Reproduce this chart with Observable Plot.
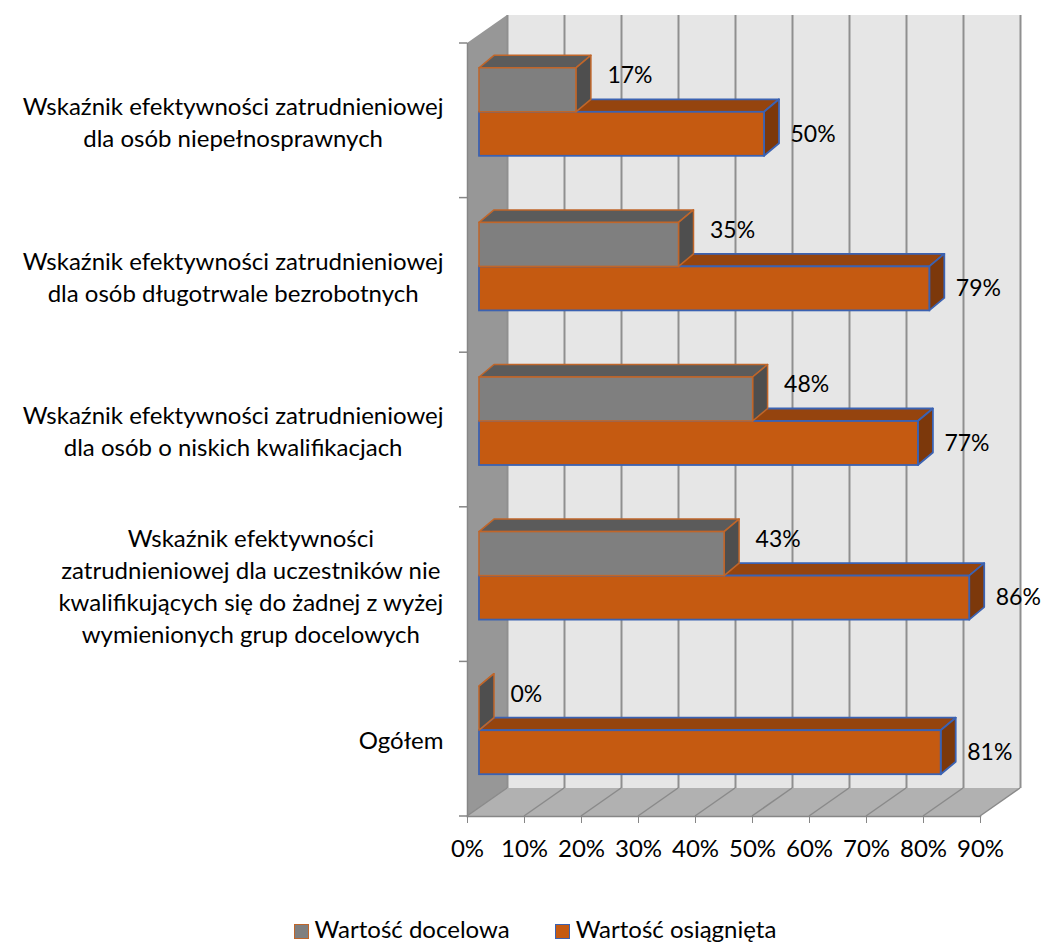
<!DOCTYPE html>
<html><head><meta charset="utf-8">
<script src="https://cdn.jsdelivr.net/npm/d3@7"></script>
<script src="https://cdn.jsdelivr.net/npm/@observablehq/plot@0.6"></script>
<style>
body{margin:0;background:#fff;font-family:Lato,"Open Sans",sans-serif;}
#chart{width:1042px;}
.legend{display:flex;justify-content:center;align-items:center;gap:45px;padding-top:34px;padding-left:28px;font-size:24px;line-height:30px;color:#000;}
.legend .item{display:flex;align-items:center;gap:6px;}
.legend .sw{display:inline-block;width:15px;height:15px;box-sizing:border-box;margin-top:4px;}
</style></head><body><div id="chart"></div>
<script>
const categories = [
  "Wskaźnik efektywności zatrudnieniowej\ndla osób niepełnosprawnych",
  "Wskaźnik efektywności zatrudnieniowej\ndla osób długotrwale bezrobotnych",
  "Wskaźnik efektywności zatrudnieniowej\ndla osób o niskich kwalifikacjach",
  "Wskaźnik efektywności\nzatrudnieniowej dla uczestników nie\nkwalifikujących się do żadnej z wyżej\nwymienionych grup docelowych",
  "Ogółem"
];
const seriesNames = ["Wartość docelowa", "Wartość osiągnięta"];
const docelowa = [0.17, 0.35, 0.48, 0.43, 0.00];
const osiagnieta = [0.50, 0.79, 0.77, 0.86, 0.81];
const xTicks = [0, 0.1, 0.2, 0.3, 0.4, 0.5, 0.6, 0.7, 0.8, 0.9];
const tickLabels = ["0%", "10%", "20%", "30%", "40%", "50%", "60%", "70%", "80%", "90%"];

// styles
const GRAY = {front: "#7f7f7f", top: "#5b5b5b", side: "#4e4e4e", stroke: "#c0662a", sw: 1.5};
const ORANGE = {front: "#c55a11", top: "#95440e", side: "#7c380b", stroke: "#3b62b2", sw: 1.8};
const W = 1042, H = 880;
const M = {top: 43, right: 62, bottom: 64, left: 467};
const WD = {dx: 40, dy: -28};      // wall depth
const BO = {dx: 12, dy: -8.5};     // bar front offset
const BD = {dx: 15, dy: -12.5};    // bar depth
const BAR_H = 44;
const BW = (H - M.top - M.bottom) / categories.length;
const FONT = "Lato, 'Open Sans', sans-serif";
const fmt = d3.format(".0%");

const rowsD = categories.map((c, i) => ({cat: c, value: docelowa[i]}));
const rowsO = categories.map((c, i) => ({cat: c, value: osiagnieta[i]}));

const NS = "http://www.w3.org/2000/svg";
function poly(g, pts, fill, stroke, sw) {
  const p = document.createElementNS(NS, "polygon");
  p.setAttribute("points", pts.map(q => q.join(",")).join(" "));
  p.setAttribute("fill", fill);
  if (stroke) { p.setAttribute("stroke", stroke); p.setAttribute("stroke-width", sw); p.setAttribute("stroke-linejoin", "round"); }
  g.appendChild(p);
}
function line(g, x1, y1, x2, y2, stroke, sw) {
  const l = document.createElementNS(NS, "line");
  l.setAttribute("x1", x1); l.setAttribute("y1", y1); l.setAttribute("x2", x2); l.setAttribute("y2", y2);
  l.setAttribute("stroke", stroke); l.setAttribute("stroke-width", sw);
  g.appendChild(l);
}

const walls = (index, {x, y}) => {
  const g = document.createElementNS(NS, "g");
  const x0 = x(xTicks[0]), x1 = x(xTicks[xTicks.length - 1]);
  const [yT, yB] = y.range();
  poly(g, [[x0 + WD.dx, yT + WD.dy], [x1 + WD.dx, yT + WD.dy], [x1 + WD.dx, yB + WD.dy], [x0 + WD.dx, yB + WD.dy]], "#e6e6e6");
  poly(g, [[x0, yT], [x0 + WD.dx, yT + WD.dy], [x0 + WD.dx, yB + WD.dy], [x0, yB]], "#979797");
  poly(g, [[x0, yB], [x1, yB], [x1 + WD.dx, yB + WD.dy], [x0 + WD.dx, yB + WD.dy]], "#b1b1b1");
  return g;
};
const floorLines = (index, {x, y}) => {
  const g = document.createElementNS(NS, "g");
  const yB = y.range()[1];
  xTicks.forEach(t => line(g, x(t), yB, x(t) + WD.dx, yB + WD.dy, "#8a8a8a", 1.5));
  return g;
};
const leftTicks = (index, {x, y}) => {
  const g = document.createElementNS(NS, "g");
  const x0 = x(xTicks[0]);
  const ys = categories.map(c => y(c)).concat([y.range()[1]]);
  ys.forEach(v => line(g, x0 - 8, v, x0, v, "#868686", 1.5));
  return g;
};
function barFaces(values, upper, S) {
  return (index, {x, y}) => {
    const g = document.createElementNS(NS, "g");
    const bw = y.bandwidth ? y.bandwidth() : BW;
    values.forEach((v, i) => {
      const c = y(categories[i]) + bw / 2 + BO.dy;
      const yT = upper ? c - BAR_H : c, yB = yT + BAR_H;
      const xa = x(0) + BO.dx, xb = x(v) + BO.dx;
      poly(g, [[xa, yT], [xb, yT], [xb + BD.dx, yT + BD.dy], [xa + BD.dx, yT + BD.dy]], S.top, S.stroke, S.sw);
      poly(g, [[xb, yT], [xb + BD.dx, yT + BD.dy], [xb + BD.dx, yB + BD.dy], [xb, yB]], S.side, S.stroke, S.sw);
    });
    return g;
  };
}

// category label measurement (block right-aligned, lines centered)
const ctx = document.createElement("canvas").getContext("2d");
ctx.font = "24px " + FONT;
const LABEL_RIGHT = 443;
const catMarks = categories.map(c => {
  const w = d3.max(c.split("\n"), s => ctx.measureText(s).width);
  return Plot.text([c], {y: d => d, text: d => d, frameAnchor: "left", textAnchor: "middle",
    dx: LABEL_RIGHT - M.left - w / 2, lineHeight: 1.333, fontSize: 24, fill: "#000"});
});

const chart = Plot.plot({
  width: W, height: H,
  marginTop: M.top, marginRight: M.right, marginBottom: M.bottom, marginLeft: M.left,
  style: {fontFamily: FONT, fontSize: "24px", background: "#fff", overflow: "visible"},
  x: {domain: [0, 0.9], axis: null, label: null},
  y: {domain: categories, padding: 0, round: false, axis: null, label: null},
  marks: [
    walls,
    Plot.ruleX(xTicks, {x: d => d, dx: WD.dx, dy: WD.dy, stroke: "#8f8f8f", strokeWidth: 2}),
    floorLines,
    Plot.frame({anchor: "left", stroke: "#868686", strokeWidth: 1.5}),
    Plot.frame({anchor: "bottom", stroke: "#868686", strokeWidth: 1.5}),
    leftTicks,
    Plot.axisX(xTicks, {tickFormat: (d, i) => tickLabels[i], tickSize: 7, tickPadding: 16, fontSize: 24, stroke: "#868686", fill: "#000", label: null}),
    // achieved (lower) bars
    barFaces(osiagnieta, false, ORANGE),
    Plot.barX(rowsO, {x: "value", y: "cat", insetTop: BW / 2, insetBottom: BW / 2 - BAR_H, dx: BO.dx, dy: BO.dy,
      fill: ORANGE.front, stroke: ORANGE.stroke, strokeWidth: ORANGE.sw}),
    // target (upper) bars
    barFaces(docelowa, true, GRAY),
    Plot.barX(rowsD, {x: "value", y: "cat", insetTop: BW / 2 - BAR_H, insetBottom: BW / 2, dx: BO.dx, dy: BO.dy,
      fill: GRAY.front, stroke: GRAY.stroke, strokeWidth: GRAY.sw}),
    Plot.text(rowsD, {x: "value", y: "cat", text: d => fmt(d.value), textAnchor: "start", dx: 43, dy: -45, fontSize: 23, fill: "#000"}),
    Plot.text(rowsO, {x: "value", y: "cat", text: d => fmt(d.value), textAnchor: "start", dx: 38, dy: 13.5, fontSize: 23, fill: "#000"}),
    ...catMarks
  ]
});
document.getElementById("chart").appendChild(chart);

const legend = document.createElement("div");
legend.className = "legend";
[[seriesNames[0], GRAY], [seriesNames[1], ORANGE]].forEach(([name, S]) => {
  const it = document.createElement("span"); it.className = "item";
  const sw = document.createElement("span"); sw.className = "sw";
  sw.style.background = S.front; sw.style.border = `1.5px solid ${S.stroke}`;
  it.appendChild(sw); it.appendChild(document.createTextNode(name));
  legend.appendChild(it);
});
document.getElementById("chart").appendChild(legend);
</script>
</body></html>
